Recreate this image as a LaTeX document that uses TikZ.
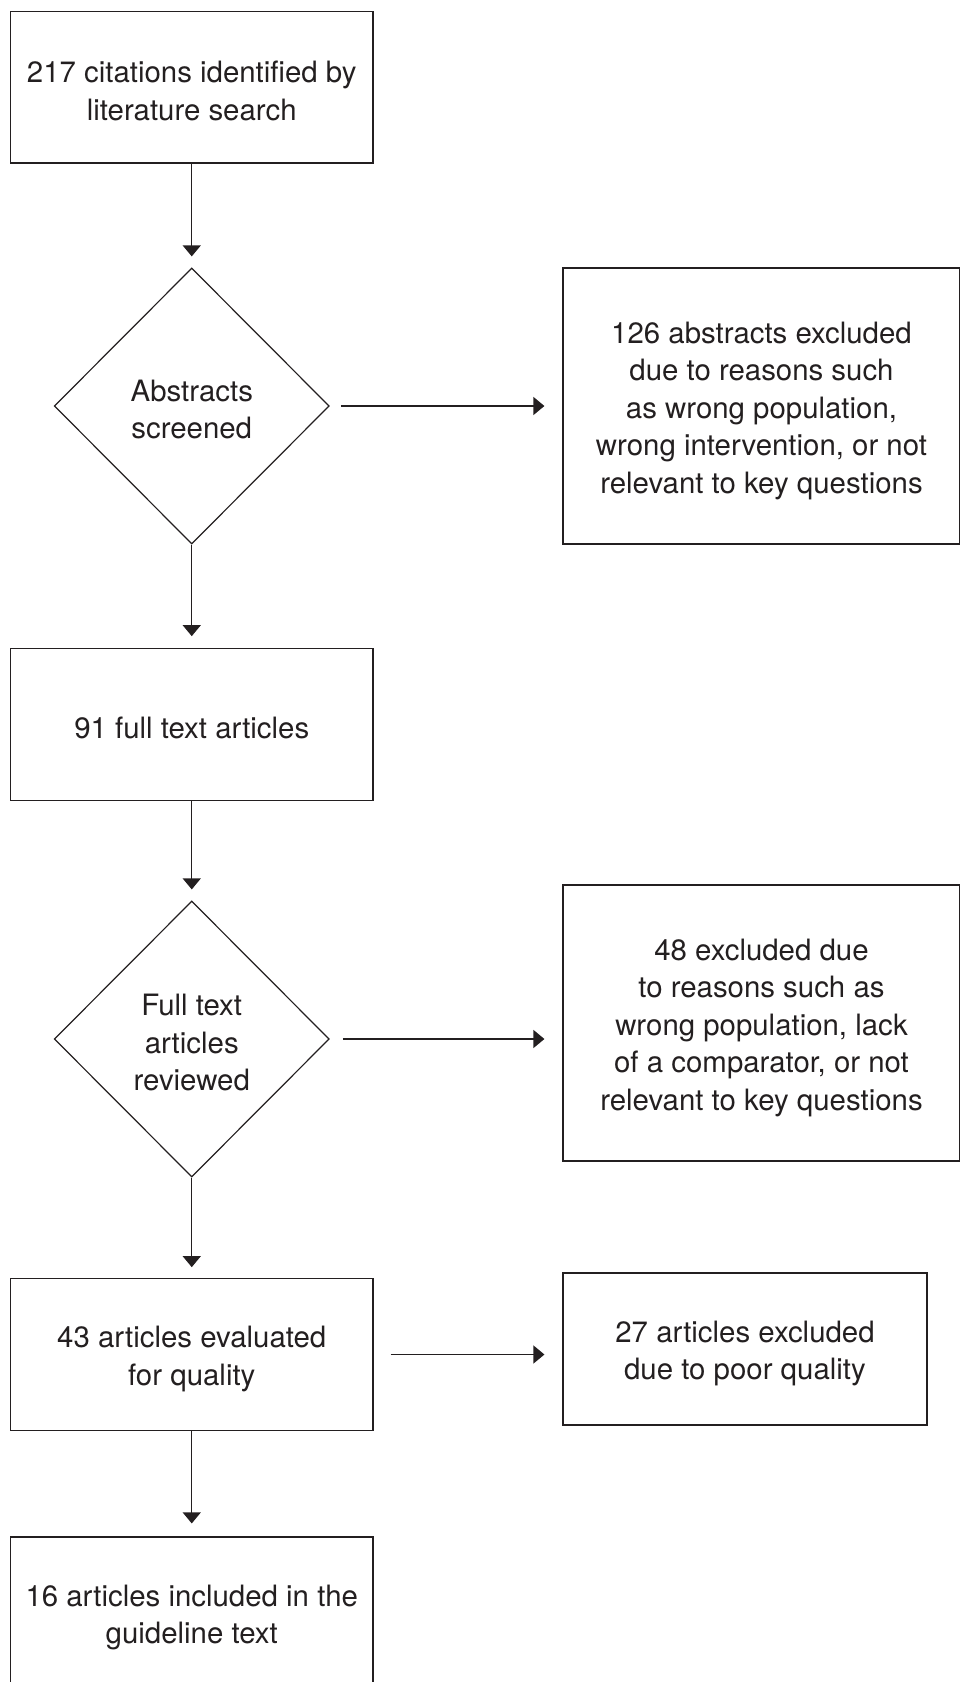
\documentclass[tikz,border=0pt]{standalone}
\usepackage{fontspec}
\setmainfont{TeX Gyre Heros}
\usetikzlibrary{shapes.geometric,arrows.meta}
\definecolor{ink}{HTML}{231F20}
\newcommand{\ls}{\rule[-2.6pt]{0pt}{33.3pt}}
\newcommand{\boxfont}{\fontsize{29.4}{37.5}\selectfont\setlength{\lineskiplimit}{-100pt}\setlength{\lineskip}{0pt}}
\begin{document}
\begin{tikzpicture}[x=1pt,y=-1pt,
  every node/.style={font=\boxfont, text=ink, align=center, inner sep=0pt},
  stepbox/.style={draw=ink, line width=1.2pt, rectangle},
  decision/.style={draw=ink, line width=1.2pt, diamond, minimum width=275pt, minimum height=276pt},
  flow/.style={draw=ink, line width=1.2pt, -{Triangle[width=18pt,length=11pt]}}
]
\useasboundingbox (0,0) rectangle (959,1682);
\node[stepbox, minimum width=362.5pt, minimum height=151.5pt] (b1) at (191.75,87.25) {\ls 217 citations identified by\\\ls literature search};
\node[decision] (d1) at (191.75,406) {\ls Abstracts\\\ls screened};
\node[stepbox, minimum width=397pt, minimum height=276pt] (r1) at (761.5,406) {\ls 126 abstracts excluded\\\ls due to reasons such\\\ls as wrong population,\\\ls wrong intervention, or not\\\ls relevant to key questions};
\node[stepbox, minimum width=362.5pt, minimum height=151.5pt] (b2) at (191.75,724.5) {\ls 91 full text articles};
\node[decision] (d2) at (191.75,1039) {\ls Full text\\\ls articles\\\ls reviewed};
\node[stepbox, minimum width=397pt, minimum height=276pt] (r2) at (761.5,1023) {\ls 48 excluded due\\\ls to reasons such as\\\ls wrong population, lack\\\ls of a comparator, or not\\\ls relevant to key questions};
\node[stepbox, minimum width=362.5pt, minimum height=151.5pt] (b3) at (191.75,1354.5) {\ls 43 articles evaluated\\\ls for quality};
\node[stepbox, minimum width=364pt, minimum height=152pt] (r3) at (745,1349) {\ls 27 articles excluded\\\ls due to poor quality};
\node[stepbox, minimum width=362.5pt, minimum height=152pt] (b4) at (191.75,1613) {\ls 16 articles included in the\\\ls guideline text};

\draw[flow, shorten >=11pt] (b1.south) -- (d1.north);
\draw[flow, shorten >=12pt] (d1.south) -- (b2.north);
\draw[flow, shorten >=11pt] (b2.south) -- (d2.north);
\draw[flow, shorten >=11pt] (d2.south) -- (b3.north);
\draw[flow, shorten >=13pt] (b3.south) -- (b4.north);
\draw[flow, shorten <=11pt, shorten >=18pt] (d1.east) -- (d1.east -| r1.west);
\draw[flow, shorten <=13pt, shorten >=18pt] (d2.east) -- (d2.east -| r2.west);
\draw[flow, shorten <=17pt, shorten >=18pt] (b3.east) -- (b3.east -| r3.west);
\end{tikzpicture}
\end{document}
